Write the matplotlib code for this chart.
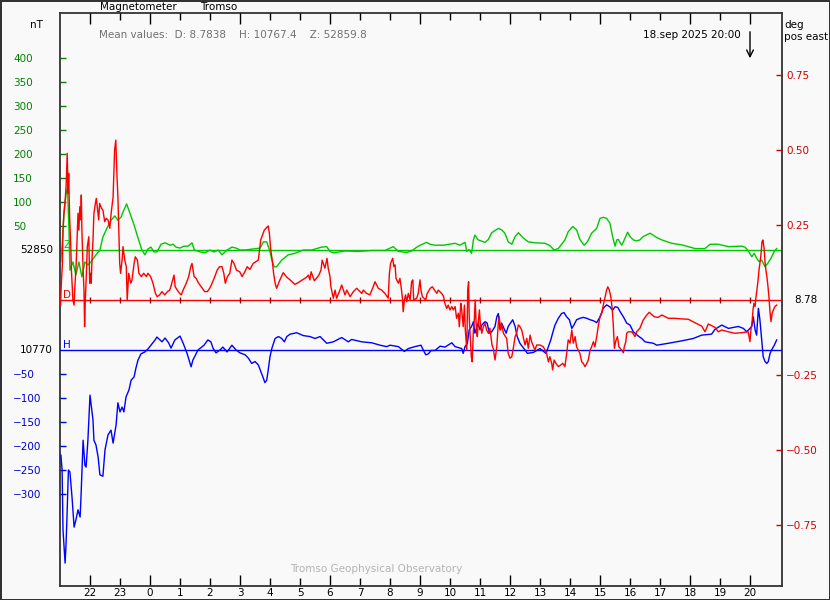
import matplotlib
matplotlib.use('Agg')
import matplotlib.pyplot as plt
import numpy as np

# ---------------- data ----------------
Z_BASE = 52850      # nT
H_BASE = 10770      # nT
D_BASE = 8.78       # deg
MEAN_D = 8.7838
MEAN_H = 10767.4
MEAN_Z = 52859.8
TITLE = "Magnetometer"
STATION = "Tromso"
STAMP = "18.sep 2025 20:00"
STAMP_HOUR = 20

hours = list(range(-2, 21))            # hour ticks (hours relative to 18 Sep 00:00)
major_hours = [0, 3, 6, 9, 12, 15, 18]

z_ticks = [50, 100, 150, 200, 250, 300, 350, 400]
h_ticks = [-50, -100, -150, -200, -250, -300]
d_ticks = [0.75, 0.50, 0.25, -0.25, -0.50, -0.75]

# Z deviation from Z_BASE (nT)
tZ = [-2.98, -2.93, -2.87, -2.80, -2.75, -2.70, -2.67, -2.57, -2.47, -2.37, -2.27, -2.17, -2.07, -1.97,
      -1.80, -1.67, -1.57, -1.43, -1.30, -1.17, -1.07, -0.96, -0.90, -0.78, -0.67, -0.53, -0.40, -0.27,
      -0.17, -0.07, 0.03, 0.13, 0.23, 0.37, 0.50, 0.67, 0.77, 0.87, 1.00, 1.13, 1.27, 1.40, 1.48, 1.67,
      1.83, 2.00, 2.13, 2.27, 2.40, 2.57, 2.73, 2.87, 3.00, 3.17, 3.67, 3.78, 3.89, 4.00, 4.06, 4.14,
      4.22, 4.39, 4.61, 4.83, 5.11, 5.39, 5.72, 5.89, 6.00, 6.11, 6.50, 6.94, 7.39, 7.83, 8.11, 8.28,
      8.56, 8.72, 8.94, 9.22, 9.33, 9.50, 9.78, 10.17, 10.33, 10.50, 10.56, 10.64, 10.72, 10.78, 10.83,
      10.94, 11.17, 11.28, 11.39, 11.61, 11.72, 11.83, 11.94, 12.06, 12.17, 12.28, 12.44, 12.61, 12.83,
      13.17, 13.33, 13.47, 13.61, 13.83, 13.94, 14.09, 14.22, 14.33, 14.47, 14.58, 14.72, 14.89, 15.00,
      15.11, 15.22, 15.33, 15.42, 15.50, 15.56, 15.61, 15.72, 15.78, 15.92, 16.00, 16.11, 16.22, 16.33,
      16.44, 16.67, 16.89, 17.06, 17.39, 17.78, 17.94, 18.17, 18.50, 18.67, 18.94, 19.28, 19.72, 19.83,
      19.92, 20.00, 20.06, 20.14, 20.22, 20.30, 20.39, 20.50, 20.59, 20.70, 20.81, 20.89]
dZ = [-25, 10, 73, 115, 131, 42, -42, -25, -52, -25, -56, -25, -31, -25,
      -10, 0, 27, 46, 62, 71, 62, 69, 79, 96, 77, 52, 25, 0,
      -10, 2, 6, -4, -4, 12, 15, 10, 12, 6, 4, 8, 8, 15, 0, -4,
      -6, 0, -4, 0, -10, 0, 6, 4, 0, 0, 4, 17, 17, -3, -21, -35,
      -35, -21, -10, -7, 0, 0, 6, 7, -3, -6, -2, -3, -1, -1, 7, -3,
      -5, -2, 8, 16, 12, 10, 10, 14, 10, 16, -3, 1, -7, 21, 31,
      21, 16, 22, 36, 45, 42, 35, 17, 12, 28, 36, 25, 17, 15,
      14, 9, 0, 3, 21, 38, 49, 42, 22, 10, 17, 35, 45, 66,
      68, 66, 56, 28, 8, 21, 22, 10, 17, 37, 28, 21, 19, 21,
      28, 35, 26, 21, 14, 10, 7, 3, 3, 12, 12, 7, 8, 6,
      0, -8, -14, -7, -17, -24, -21, -35, -28, -17, -3, 3]

# H deviation from H_BASE (nT)
tH = [-2.97, -2.93, -2.90, -2.85, -2.83, -2.80, -2.77, -2.72, -2.67, -2.60, -2.53, -2.47, -2.40, -2.33,
      -2.30, -2.23, -2.17, -2.13, -2.07, -2.00, -1.90, -1.87, -1.80, -1.73, -1.67, -1.57, -1.50, -1.40,
      -1.30, -1.23, -1.13, -1.07, -1.00, -0.93, -0.87, -0.80, -0.70, -0.63, -0.53, -0.47, -0.40, -0.30,
      -0.17, -0.07, 0.03, 0.17, 0.23, 0.33, 0.40, 0.50, 0.62, 0.70, 0.83, 1.00, 1.10, 1.23, 1.37, 1.43,
      1.60, 1.80, 1.93, 2.03, 2.10, 2.20, 2.33, 2.43, 2.57, 2.73, 2.87, 3.00, 3.17, 3.28, 3.39, 3.50,
      3.61, 3.72, 3.78, 3.83, 3.89, 3.94, 4.00, 4.06, 4.17, 4.28, 4.39, 4.48, 4.56, 4.67, 4.89, 5.11,
      5.33, 5.50, 5.67, 5.89, 6.11, 6.39, 6.61, 6.72, 7.06, 7.39, 7.67, 7.89, 8.00, 8.28, 8.48, 8.61,
      8.83, 9.03, 9.11, 9.19, 9.28, 9.37, 9.50, 9.67, 9.83, 10.06, 10.17, 10.39, 10.44, 10.50, 10.58,
      10.64, 10.72, 10.78, 10.83, 10.94, 11.00, 11.06, 11.17, 11.24, 11.31, 11.39, 11.50, 11.56, 11.61,
      11.67, 11.72, 11.87, 11.94, 12.09, 12.17, 12.24, 12.33, 12.50, 12.58, 12.78, 13.00, 13.20, 13.28,
      13.36, 13.42, 13.50, 13.61, 13.72, 13.80, 13.89, 13.98, 14.06, 14.13, 14.22, 14.33, 14.44, 14.56,
      14.67, 14.78, 14.89, 15.00, 15.11, 15.22, 15.33, 15.42, 15.50, 15.59, 15.67, 15.78, 15.89, 16.00,
      16.11, 16.28, 16.39, 16.50, 16.78, 16.89, 17.28, 17.72, 18.11, 18.39, 18.72, 18.83, 19.06, 19.28,
      19.61, 19.78, 19.89, 20.06, 20.11, 20.17, 20.22, 20.28, 20.33, 20.39, 20.44, 20.50, 20.56, 20.61,
      20.67, 20.72, 20.81, 20.89]
dH = [-219, -250, -375, -427, -444, -406, -354, -250, -254, -306, -369, -354, -333, -348,
      -306, -188, -240, -244, -188, -94, -146, -188, -198, -223, -260, -263, -208, -177,
      -167, -194, -156, -110, -129, -119, -129, -98, -83, -63, -56, -38, -21, -8,
      -4, 2, 10, 21, 27, 21, 17, 25, 15, 4, 21, 29, 15, -6, -35, -21,
      0, 10, 21, 17, 4, -6, 0, 6, -4, 10, 0, -6, -10, -17, -28, -24,
      -31, -49, -59, -68, -63, -42, -14, 3, 24, 28, 24, 17, 28, 33, 36, 30,
      28, 24, 28, 14, 17, 26, 17, 22, 17, 15, 10, 7, 10, 7, -3, 3,
      7, 10, 0, -10, -8, -1, -1, 8, 6, 15, 7, 3, -7, 7, 14,
      42, 49, 59, 35, 56, 42, 52, 59, 56, 35, 38, 49, 69, 76,
      42, 56, 35, 49, 63, 49, 28, 14, 0, -7, -5, 3, -7, 7,
      21, 35, 52, 66, 76, 78, 69, 63, 45, 52, 63, 66, 68, 66,
      63, 61, 57, 69, 87, 94, 90, 83, 90, 89, 80, 69, 56, 52,
      38, 29, 24, 17, 14, 10, 14, 19, 24, 31, 33, 43, 52, 45,
      49, 45, 38, 49, 69, 42, 31, 87, 63, 21, -14, -24, -28, -24,
      -7, 0, 10, 21]

# D deviation from D_BASE (deg, positive east)
tD = [-2.98, -2.96, -2.92, -2.90, -2.87, -2.82, -2.79, -2.76, -2.73, -2.71, -2.68, -2.64, -2.62, -2.57,
      -2.53, -2.51, -2.46, -2.40, -2.37, -2.34, -2.31, -2.29, -2.27, -2.23, -2.20, -2.18, -2.16, -2.12,
      -2.09, -2.04, -2.01, -1.98, -1.96, -1.93, -1.90, -1.87, -1.82, -1.79, -1.76, -1.71, -1.68, -1.62,
      -1.57, -1.51, -1.46, -1.40, -1.34, -1.29, -1.23, -1.18, -1.14, -1.10, -1.07, -1.03, -1.01, -0.98,
      -0.93, -0.90, -0.84, -0.79, -0.76, -0.71, -0.64, -0.60, -0.53, -0.49, -0.42, -0.37, -0.29, -0.21,
      -0.12, -0.07, 0.02, 0.10, 0.18, 0.24, 0.32, 0.40, 0.49, 0.58, 0.66, 0.71, 0.80, 0.84, 0.91, 0.99,
      1.04, 1.13, 1.21, 1.29, 1.36, 1.40, 1.47, 1.54, 1.62, 1.71, 1.82, 1.91, 1.99, 2.07, 2.16, 2.24,
      2.32, 2.40, 2.46, 2.51, 2.58, 2.66, 2.73, 2.80, 2.88, 2.99, 3.07, 3.16, 3.24, 3.33, 3.44, 3.61,
      3.69, 3.81, 3.94, 3.98, 4.02, 4.08, 4.12, 4.17, 4.22, 4.33, 4.44, 4.56, 4.67, 4.83, 4.94, 5.11,
      5.22, 5.28, 5.33, 5.37, 5.48, 5.63, 5.70, 5.74, 5.83, 5.90, 5.94, 6.00, 6.03, 6.11, 6.17, 6.22,
      6.33, 6.39, 6.50, 6.56, 6.67, 6.78, 6.89, 7.06, 7.11, 7.22, 7.33, 7.44, 7.50, 7.61, 7.72, 7.83,
      7.94, 7.98, 8.02, 8.09, 8.13, 8.17, 8.20, 8.28, 8.33, 8.37, 8.41, 8.44, 8.48, 8.52, 8.56, 8.61,
      8.67, 8.72, 8.76, 8.79, 8.89, 8.94, 9.00, 9.03, 9.08, 9.19, 9.24, 9.34, 9.41, 9.50, 9.56, 9.61,
      9.72, 9.78, 9.83, 9.89, 9.94, 10.00, 10.06, 10.11, 10.17, 10.22, 10.28, 10.31, 10.36, 10.39, 10.44,
      10.48, 10.51, 10.56, 10.59, 10.62, 10.64, 10.68, 10.71, 10.74, 10.78, 10.81, 10.84, 10.88, 10.91,
      10.94, 10.98, 11.01, 11.06, 11.11, 11.17, 11.22, 11.28, 11.33, 11.40, 11.44, 11.50, 11.56, 11.61,
      11.64, 11.69, 11.72, 11.78, 11.89, 11.94, 12.00, 12.06, 12.11, 12.17, 12.22, 12.28, 12.33, 12.39,
      12.44, 12.50, 12.56, 12.61, 12.67, 12.72, 12.83, 12.89, 13.00, 13.11, 13.17, 13.22, 13.28, 13.33,
      13.39, 13.42, 13.47, 13.53, 13.61, 13.69, 13.76, 13.83, 13.89, 13.94, 14.00, 14.06, 14.11, 14.17,
      14.22, 14.33, 14.39, 14.44, 14.50, 14.56, 14.61, 14.67, 14.72, 14.78, 14.83, 14.89, 14.94, 15.00,
      15.06, 15.11, 15.17, 15.22, 15.26, 15.31, 15.36, 15.41, 15.44, 15.48, 15.52, 15.58, 15.63, 15.72,
      15.78, 15.81, 15.86, 15.89, 15.94, 16.06, 16.17, 16.22, 16.33, 16.44, 16.56, 16.64, 16.81, 16.94,
      17.06, 17.28, 17.50, 17.72, 17.94, 18.17, 18.39, 18.50, 18.61, 18.83, 18.94, 19.06, 19.28, 19.50,
      19.72, 19.94, 20.00, 20.03, 20.07, 20.10, 20.13, 20.17, 20.20, 20.23, 20.27, 20.30, 20.33, 20.37,
      20.40, 20.43, 20.47, 20.50, 20.53, 20.57, 20.60, 20.63, 20.67, 20.70, 20.74, 20.78, 20.83, 20.89]
dD = [-0.017, 0.044, 0.122, 0.233, 0.289, 0.344, 0.394, 0.489, 0.356, 0.422, 0.278, 0.178, 0.100, 0.000,
      -0.017, 0.033, 0.122, 0.289, 0.233, 0.311, 0.267, 0.350, 0.233, 0.100, 0.033, -0.089, -0.011, 0.089,
      0.178, 0.211, 0.056, 0.089, 0.056, 0.144, 0.200, 0.289, 0.322, 0.339, 0.311, 0.267, 0.322, 0.306,
      0.300, 0.261, 0.272, 0.267, 0.239, 0.294, 0.344, 0.500, 0.533, 0.411, 0.344, 0.200, 0.122, 0.089,
      0.133, 0.178, 0.133, 0.111, 0.000, 0.089, 0.056, 0.067, 0.122, 0.144, 0.133, 0.089, 0.078, 0.089,
      0.078, 0.089, 0.078, 0.056, 0.022, 0.011, 0.017, 0.028, 0.017, 0.028, 0.033, 0.050, 0.083, 0.044, 0.033, 0.022,
      0.017, 0.039, 0.056, 0.078, 0.111, 0.122, 0.078, 0.072, 0.056, 0.044, 0.028, 0.028, 0.039, 0.056, 0.078, 0.100,
      0.111, 0.111, 0.089, 0.056, 0.078, 0.089, 0.133, 0.122, 0.100, 0.094, 0.078, 0.094, 0.111, 0.102, 0.122, 0.133,
      0.200, 0.233, 0.247, 0.222, 0.172, 0.128, 0.089, 0.056, 0.039, 0.067, 0.091, 0.076, 0.067, 0.052, 0.058, 0.069,
      0.076, 0.083, 0.067, 0.094, 0.064, 0.083, 0.100, 0.133, 0.106, 0.139, 0.106, 0.078, 0.044, 0.006, 0.033, 0.006,
      0.033, 0.050, 0.017, 0.033, 0.011, 0.028, 0.039, 0.022, 0.033, 0.022, 0.017, 0.044, 0.061, 0.039, 0.033, 0.022,
      0.006, 0.089, 0.122, 0.139, 0.111, 0.117, 0.072, 0.056, 0.072, 0.044, 0.011, -0.039, 0.000, 0.017, -0.006, 0.022,
      0.000, 0.061, 0.067, 0.000, 0.006, 0.022, 0.067, 0.033, 0.011, 0.000, 0.022, 0.039, 0.044, 0.031, 0.022, 0.033,
      0.022, 0.013, -0.011, -0.028, -0.017, -0.033, -0.022, -0.033, -0.022, -0.061, -0.044, -0.089, -0.011, -0.033, -0.089,
      -0.017, -0.100, -0.167, 0.033, 0.061, -0.056, -0.133, -0.189, -0.206, -0.100, -0.067, 0.000, -0.100, -0.122,
      -0.078, -0.033, -0.078, -0.111, -0.089, -0.078, -0.100, -0.111, -0.094, -0.150, -0.161, -0.200, -0.156, -0.078,
      -0.056, -0.100, -0.078, -0.111, -0.128, -0.178, -0.194, -0.189, -0.161, -0.122, -0.111, -0.083, -0.089, -0.100,
      -0.122, -0.150, -0.128, -0.161, -0.117, -0.139, -0.167, -0.150, -0.150, -0.156, -0.167, -0.178, -0.206, -0.189,
      -0.211, -0.233, -0.200, -0.211, -0.222, -0.217, -0.211, -0.222, -0.178, -0.133, -0.144, -0.100, -0.144, -0.122,
      -0.156, -0.178, -0.206, -0.211, -0.222, -0.211, -0.200, -0.167, -0.156, -0.139, -0.156, -0.122, -0.089, -0.056,
      -0.044, -0.017, 0.011, 0.033, 0.044, 0.033, 0.011, -0.033, -0.078, -0.161, -0.139, -0.122, -0.156, -0.167,
      -0.176, -0.156, -0.139, -0.111, -0.106, -0.106, -0.122, -0.106, -0.094, -0.067, -0.050, -0.041, -0.056, -0.058,
      -0.050, -0.061, -0.061, -0.063, -0.064, -0.076, -0.087, -0.106, -0.080, -0.091, -0.106, -0.100, -0.106, -0.111,
      -0.109, -0.106, -0.139, -0.100, -0.072, -0.033, -0.011, -0.022, 0.011, 0.033, 0.067, 0.100, 0.122, 0.156,
      0.194, 0.200, 0.172, 0.128, 0.100, 0.072, 0.044, 0.011, -0.044, -0.072, -0.044, -0.033, -0.022, -0.017]

# ---------------- style ----------------
W, HP = 830, 600
BG = '#f9f9f9'
FRAME = '#333333'
GREEN_L, GREEN_T = '#00c800', '#008000'
BLUE_L, BLUE_T = '#0000ff', '#0000d0'
RED_L, RED_T = '#ff0000', '#d00000'
FS = 7.5
PT = 0.72  # points per pixel at 100 dpi

plt.rcParams['font.family'] = ['DejaVu Sans']

fig = plt.figure(figsize=(W / 100, HP / 100), dpi=100)
fig.patch.set_facecolor(BG)
fig.patch.set_edgecolor(FRAME)
fig.patch.set_linewidth(2)

L, T, R, B = 60, 13, 782, 586
rect = [L / W, 1 - B / HP, (R - L) / W, (B - T) / HP]
axZ = fig.add_axes(rect)
axH = fig.add_axes(rect, sharex=axZ)
axD = fig.add_axes(rect, sharex=axZ)
axZ.set_facecolor(BG)
for ax in (axH, axD):
    ax.patch.set_visible(False)
for ax in (axZ, axH, axD):
    for s in ax.spines.values():
        s.set_visible(ax is axZ)
        s.set_color(FRAME)
        s.set_linewidth(1.3)

# x range: 21:00 on 17 Sep to ~21:04 on 18 Sep
x0 = -3.0
x1 = x0 + (R - L) / 30.0
axZ.set_xlim(x0, x1)

# y ranges (pixel scale of the original: 24 px / 50 nT, 75 px / 0.25 deg)
nt_per_px = 50 / 24
axZ.set_ylim(Z_BASE - (B - 250) * nt_per_px, Z_BASE + (250 - T) * nt_per_px)
axH.set_ylim(H_BASE - (B - 350) * nt_per_px, H_BASE + (350 - T) * nt_per_px)
axD.set_ylim(D_BASE - (B - 300) / 300, D_BASE + (300 - T) / 300)

# baselines
axZ.axhline(Z_BASE, color=GREEN_L, lw=1.0)
axH.axhline(H_BASE, color=BLUE_L, lw=1.0)
axD.axhline(D_BASE, color=RED_L, lw=1.0)
axD.plot(hours, [D_BASE] * len(hours), ls='none', marker='|', ms=4.5, mew=1.0, color='#a00000')

# series
axZ.plot(tZ, Z_BASE + np.array(dZ), color=GREEN_L, lw=1.0)
axH.plot(tH, H_BASE + np.array(dH), color=BLUE_L, lw=1.0)
axD.plot(tD, D_BASE + np.array(dD), color=RED_L, lw=1.0)

# x ticks: bottom on axZ, top on axH
minor_hours = [h for h in hours if h not in major_hours]
fmt = matplotlib.ticker.FuncFormatter(lambda v, p: str(int(round(v)) % 24))
axZ.xaxis.set_major_locator(matplotlib.ticker.FixedLocator(major_hours))
axZ.xaxis.set_minor_locator(matplotlib.ticker.FixedLocator(minor_hours))
axZ.xaxis.set_major_formatter(fmt)
axZ.xaxis.set_minor_formatter(fmt)
axZ.tick_params(axis='x', which='major', direction='in', length=11 * PT, width=1, color='black',
                bottom=True, top=False, labelbottom=True, labelsize=FS, pad=1.5)
axZ.tick_params(axis='x', which='minor', direction='in', length=8 * PT, width=1, color='black',
                bottom=True, top=False, labelbottom=True, labelsize=FS, pad=1.5)

top_long = [-2] + major_hours + [STAMP_HOUR]
top_short = [h for h in hours if h not in top_long]
axH.xaxis.set_major_locator(matplotlib.ticker.FixedLocator(top_long))
axH.xaxis.set_minor_locator(matplotlib.ticker.FixedLocator(top_short))
axH.tick_params(axis='x', which='major', direction='in', length=11 * PT, width=1, color='black',
                bottom=False, top=True, labelbottom=False, labeltop=False)
axH.tick_params(axis='x', which='minor', direction='in', length=7 * PT, width=1, color='black',
                bottom=False, top=True, labelbottom=False, labeltop=False)
axD.tick_params(axis='x', which='both', bottom=False, top=False, labelbottom=False, labeltop=False)

# y ticks
lab_pad = (L - 13) * PT
axZ.set_yticks([Z_BASE + v for v in z_ticks], [str(v) for v in z_ticks])
axZ.tick_params(axis='y', direction='in', length=6 * PT, width=1, color=GREEN_T, labelcolor=GREEN_T,
                labelsize=FS, pad=lab_pad, left=True, right=False)
for lab in axZ.get_yticklabels():
    lab.set_horizontalalignment('left')

axH.set_yticks([H_BASE + v for v in h_ticks], ['\u2212' + str(-v) for v in h_ticks])
axH.tick_params(axis='y', direction='in', length=6 * PT, width=1, color=BLUE_T, labelcolor=BLUE_T,
                labelsize=FS, pad=lab_pad, left=True, right=False)
for lab in axH.get_yticklabels():
    lab.set_horizontalalignment('left')

axD.yaxis.tick_right()
axD.set_yticks([D_BASE + v for v in d_ticks],
               [('\u2212' if v < 0 else '') + f"{abs(v):.2f}" for v in d_ticks])
axD.tick_params(axis='y', direction='in', length=6 * PT, width=1, color=RED_T, labelcolor=RED_T,
                labelsize=FS, pad=3, left=False, right=True)

# baseline labels
yZ = axZ.get_yaxis_transform()
axZ.text((20 - L) / (R - L), Z_BASE, str(Z_BASE), transform=yZ, ha='left', va='center', fontsize=FS)
axH.text((20 - L) / (R - L), H_BASE, str(H_BASE), transform=axH.get_yaxis_transform(),
         ha='left', va='center', fontsize=FS)
axD.text((794 - L) / (R - L), D_BASE, f"{D_BASE:.2f}", transform=axD.get_yaxis_transform(),
         ha='left', va='center', fontsize=FS)
axZ.text((63 - L) / (R - L), Z_BASE, 'Z', transform=yZ, ha='left', va='bottom', fontsize=FS, color=GREEN_L)
axD.text((63 - L) / (R - L), D_BASE, 'D', transform=axD.get_yaxis_transform(), ha='left', va='bottom',
         fontsize=FS, color=RED_L)
axH.text((63 - L) / (R - L), H_BASE, 'H', transform=axH.get_yaxis_transform(), ha='left', va='bottom',
         fontsize=FS, color=BLUE_L)

# header texts
def ftext(x, y, s, **kw):
    fig.text(x / W, 1 - y / HP, s, fontsize=FS, va='center', **kw)

ftext(100, 7, TITLE, ha='left')
ftext(200, 7, STATION, ha='left')
ftext(30, 25, 'nT', ha='left')
ftext(99, 35, f"Mean values:  D: {MEAN_D}    H: {MEAN_H}    Z: {MEAN_Z}", ha='left', color='#707070')
ftext(741, 35, STAMP, ha='right')
ftext(784, 25, 'deg', ha='left')
ftext(784, 37, 'pos east', ha='left')
ftext(290, 569, 'Tromso Geophysical Observatory', ha='left', color='#b4b4b4')

axZ.annotate('', xy=(STAMP_HOUR, HP - 61), xycoords=('data', 'figure pixels'),
             xytext=(STAMP_HOUR, HP - 29), textcoords=('data', 'figure pixels'),
             arrowprops=dict(arrowstyle='->', color='black', lw=1.0, mutation_scale=12))

fig.savefig('out.png', dpi=100, facecolor=BG)
